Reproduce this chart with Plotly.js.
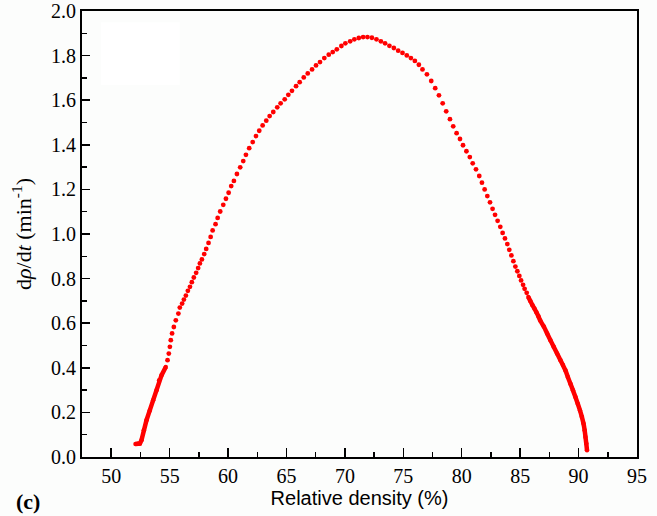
<!DOCTYPE html>
<html>
<head>
<meta charset="utf-8">
<script src="https://cdn.plot.ly/plotly-3.0.1.min.js"></script>
<style>html,body{margin:0;padding:0;background:#fcfdfc;}</style>
</head>
<body>
<div id="chart" style="width:657px;height:516px;"></div>
<script>
// Dense start segment (relative density %, dρ/dt)
const startX = [52.08, 52.28, 52.45, 52.59, 52.79, 53.02, 53.30, 53.59, 53.88, 54.10, 54.31, 54.67];
const startY = [0.058, 0.060, 0.060, 0.075, 0.120, 0.165, 0.209, 0.254, 0.299, 0.344, 0.367, 0.404];

// Sparse middle dots
const midX = [54.82, 54.93, 55.02, 55.10, 55.21, 55.36, 55.53, 55.75, 55.87, 56.07, 56.22, 56.39, 56.56, 56.74, 56.90, 57.07, 57.27, 57.44, 57.59, 57.76, 57.96, 58.13, 58.33, 58.51, 58.68, 58.93, 59.11, 59.33, 59.59, 59.82, 60.05, 60.27, 60.50, 60.76, 61.04, 61.30, 61.53, 61.81, 62.11, 62.39, 62.67, 62.96, 63.27, 63.56, 63.87, 64.21, 64.50, 64.85, 65.16, 65.47, 65.82, 66.13, 66.48, 66.82, 67.19, 67.53, 67.87, 68.24, 68.62, 68.96, 69.31, 69.70, 70.04, 70.45, 70.81, 71.19, 71.56, 71.93, 72.31, 72.70, 73.08, 73.44, 73.81, 74.19, 74.56, 74.93, 75.30, 75.65, 75.99, 76.33, 76.64, 77.02, 77.39, 77.73, 78.05, 78.37, 78.67, 78.99, 79.27, 79.56, 79.85, 80.11, 80.40, 80.69, 80.94, 81.22, 81.50, 81.73, 81.96, 82.19, 82.42, 82.64, 82.85, 83.07, 83.30, 83.50, 83.70, 83.90, 84.07, 84.25, 84.42, 84.59, 84.76, 84.93, 85.08, 85.25, 85.38, 85.56];
const midY = [0.434, 0.464, 0.494, 0.524, 0.554, 0.583, 0.613, 0.643, 0.670, 0.688, 0.706, 0.724, 0.745, 0.763, 0.784, 0.805, 0.826, 0.847, 0.868, 0.886, 0.910, 0.933, 0.960, 0.987, 1.016, 1.044, 1.072, 1.101, 1.131, 1.158, 1.185, 1.215, 1.238, 1.269, 1.299, 1.327, 1.355, 1.385, 1.412, 1.439, 1.463, 1.487, 1.508, 1.529, 1.547, 1.568, 1.586, 1.604, 1.624, 1.642, 1.663, 1.681, 1.702, 1.720, 1.738, 1.756, 1.771, 1.789, 1.804, 1.816, 1.828, 1.843, 1.855, 1.864, 1.873, 1.879, 1.883, 1.883, 1.880, 1.873, 1.864, 1.855, 1.844, 1.834, 1.822, 1.812, 1.801, 1.789, 1.776, 1.759, 1.738, 1.716, 1.686, 1.654, 1.622, 1.586, 1.550, 1.515, 1.483, 1.452, 1.426, 1.398, 1.371, 1.345, 1.317, 1.290, 1.260, 1.230, 1.200, 1.170, 1.142, 1.113, 1.086, 1.059, 1.032, 1.005, 0.980, 0.955, 0.929, 0.904, 0.878, 0.854, 0.833, 0.812, 0.792, 0.772, 0.754, 0.736];

// Dense end segment
const endX = [85.70, 85.87, 86.04, 86.22, 86.39, 86.56, 86.72, 87.02, 87.31, 87.59, 87.87, 88.16, 88.45, 88.66, 88.87, 89.08, 89.30, 89.52, 89.73, 89.93, 90.12, 90.28, 90.42, 90.52, 90.59, 90.66, 90.72];
const endY = [0.718, 0.700, 0.682, 0.666, 0.649, 0.631, 0.612, 0.585, 0.554, 0.524, 0.494, 0.464, 0.434, 0.412, 0.389, 0.359, 0.329, 0.299, 0.269, 0.239, 0.209, 0.180, 0.150, 0.120, 0.090, 0.060, 0.030];

// Tick values and labels
const xTickVals = [50, 55, 60, 65, 70, 75, 80, 85, 90, 95];
const xTickLabels = ['50', '55', '60', '65', '70', '75', '80', '85', '90', '95'];
const yTickVals = [0.0, 0.2, 0.4, 0.6, 0.8, 1.0, 1.2, 1.4, 1.6, 1.8, 2.0];
const yTickLabels = ['0.0', '0.2', '0.4', '0.6', '0.8', '1.0', '1.2', '1.4', '1.6', '1.8', '2.0'];
const xMinorVals = [47.5, 52.5, 57.5, 62.5, 67.5, 72.5, 77.5, 82.5, 87.5, 92.5];
const yMinorVals = [0.1, 0.3, 0.5, 0.7, 0.9, 1.1, 1.3, 1.5, 1.7, 1.9];

const red = '#ff0000';
const traces = [
  {x: startX, y: startY, mode: 'lines+markers', line: {color: red, width: 4.5},
   marker: {color: red, size: 4.5}, showlegend: false, hoverinfo: 'skip'},
  {x: midX, y: midY, mode: 'markers', marker: {color: red, size: 4.8}, showlegend: false},
  {x: endX, y: endY, mode: 'lines+markers', line: {color: red, width: 4.5, shape: 'spline'},
   marker: {color: red, size: 4.5}, showlegend: false, hoverinfo: 'skip'}
];

const serif = 'Liberation Serif';

const layout = {
  width: 657, height: 516,
  margin: {l: 82, r: 20, t: 11, b: 59},
  paper_bgcolor: '#fcfdfc',
  plot_bgcolor: '#fcfdfc',
  font: {family: serif, size: 20, color: '#000'},
  xaxis: {
    range: [47.5, 95], tickmode: 'array', tickvals: xTickVals, ticktext: xTickLabels,
    ticks: 'inside', ticklen: 9, tickwidth: 1.5, tickcolor: '#000',
    minor: {ticks: 'inside', ticklen: 5, tickwidth: 1.5, tickcolor: '#000', tickmode: 'array', tickvals: xMinorVals},
    showline: true, linecolor: '#000', linewidth: 2, mirror: true,
    showgrid: false, zeroline: false,
    tickfont: {family: serif, size: 20, color: '#000'},
    title: {text: 'Relative density (%)', font: {family: 'Liberation Sans', size: 20, color: '#000'}, standoff: 1}
  },
  yaxis: {
    range: [0, 2.0], tickmode: 'array', tickvals: yTickVals, ticktext: yTickLabels,
    ticks: 'inside', ticklen: 8, tickwidth: 1.5, tickcolor: '#000',
    minor: {ticks: 'inside', ticklen: 5, tickwidth: 1.5, tickcolor: '#000', tickmode: 'array', tickvals: yMinorVals},
    showline: true, linecolor: '#000', linewidth: 2, mirror: true,
    showgrid: false, zeroline: false,
    tickfont: {family: serif, size: 20, color: '#000'},
    title: {text: 'd<i>ρ</i>/d<i>t</i> (min<sup>-1</sup>)', font: {family: serif, size: 22, color: '#000'}, standoff: 13}
  },
  shapes: [
    {type: 'rect', xref: 'paper', yref: 'paper', x0: 0.034, x1: 0.176, y0: 0.834, y1: 0.975,
     fillcolor: '#ffffff', line: {width: 0}, layer: 'below'}
  ],
  annotations: [
    {text: '<b>(c)</b>', xref: 'paper', yref: 'paper', x: -0.122, y: -0.068, xanchor: 'left', yanchor: 'top',
     showarrow: false, font: {family: serif, size: 22, color: '#000'}}
  ]
};

Plotly.newPlot('chart', traces, layout, {displayModeBar: false, staticPlot: true});
</script>
</body>
</html>
